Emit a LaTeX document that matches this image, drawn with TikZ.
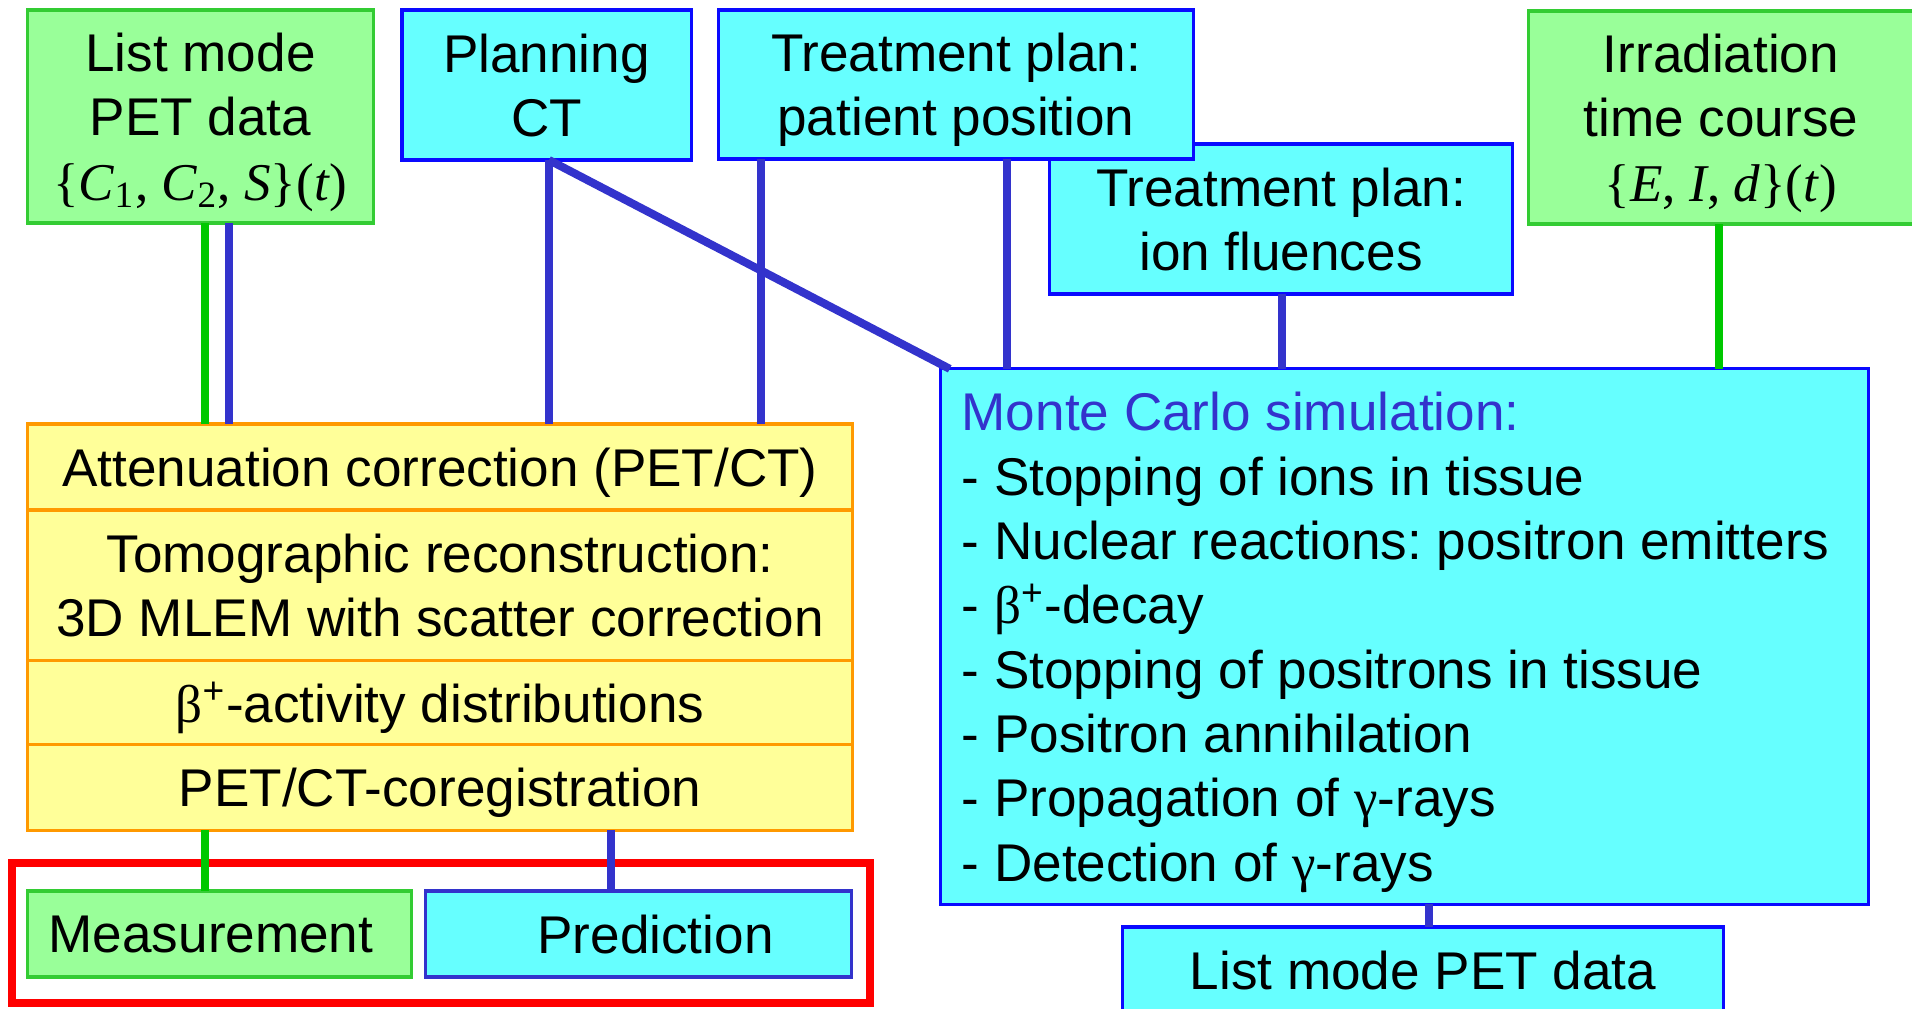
\documentclass[tikz,border=0pt]{standalone}
\usepackage{fontspec}
\setmainfont{Liberation Sans}
\newfontfamily\symfont{Liberation Serif}
\usepackage{tikz}
\usetikzlibrary{positioning}

\definecolor{boxcyan}{HTML}{66FFFF}
\definecolor{boxblue}{HTML}{0A0AFF}
\definecolor{boxgreen}{HTML}{99FF99}
\definecolor{edgegreen}{HTML}{33CC33}
\definecolor{linegreen}{HTML}{00C800}
\definecolor{lineblue}{HTML}{3333CC}
\definecolor{boxyellow}{HTML}{FFFF99}
\definecolor{edgeorange}{HTML}{FF9900}

\newcommand{\bplus}{{\symfont β}\textsuperscript{+}}
\newcommand{\gam}{{\symfont γ}}
\newcommand{\formula}[1]{{\symfont #1}}

\begin{document}
\begin{tikzpicture}[x=0.01cm, y=-0.01cm,
	every node/.style={font=\fontsize{15.1pt}{18.3pt}\selectfont\frenchspacing, inner sep=0pt, outer sep=0pt, text depth=0pt, align=center},
	cbox/.style={draw=boxblue, fill=boxcyan, line width=0.9pt},
	gbox/.style={draw=edgegreen, fill=boxgreen, line width=0.9pt},
	ybox/.style={draw=edgeorange, fill=boxyellow, line width=0.9pt, minimum width=8.24cm},
	bline/.style={lineblue, line width=2.3pt},
	gline/.style={linegreen, line width=2.3pt}]
	\useasboundingbox (0,0) rectangle (1912,1008);

	% inputs
	\node[gbox, minimum width=3.45cm, minimum height=2.13cm] (lmpet) at (200.5,116.5) {List mode\\PET data\\\formula{\{\textit{C}\textsubscript{1}, \textit{C}\textsubscript{2}, \textit{S}\}(\textit{t})}};
	\node[cbox, minimum width=2.89cm, minimum height=1.5cm] (plct) at (546.5,85) {Planning\\CT};
	\node[cbox, minimum width=4.62cm, minimum height=1.5cm] (tpion) at (1281,219) {Treatment plan:\\ion fluences};
	\node[cbox, minimum width=4.74cm, minimum height=1.49cm] (tppos) at (956,84.5) {Treatment plan:\\patient position};
	\node[gbox, minimum width=3.84cm, minimum height=2.13cm] (irr) at (1721,117.5) {Irradiation\\time course\\\formula{\{\textit{E}, \textit{I}, \textit{d}\}(\textit{t})}};

	% measurement chain
	\node[ybox, minimum height=0.86cm] (att) at (440,467) {Attenuation correction (PET/CT)};
	\node[ybox, minimum height=1.5cm, below=0pt of att] (tomo) {Tomographic reconstruction:\\3D MLEM with scatter correction};
	\node[ybox, minimum height=0.84cm, below=0pt of tomo] (beta) {\bplus-activity distributions};
	\node[ybox, minimum height=0.86cm, below=0pt of beta] (coreg) {PET/CT-coregistration};

	\draw[red, line width=2.3pt] (12,863) rectangle (870,1003);
	\node[gbox, minimum width=3.83cm, minimum height=0.86cm] (meas) at (219.5,934) {Measurement\hspace*{0.17cm}};
	\node[cbox, draw=lineblue, minimum width=4.25cm, minimum height=0.86cm] (pred) at (638.5,934) {\hspace*{0.34cm}Prediction};

	% simulation
	\node[cbox, text width=8.85cm, text depth=, minimum height=5.35cm, inner xsep=0.21cm, align=flush left] (mc) at (1404.5,636.5) {\rule{0pt}{0.95em}\textcolor{lineblue}{Monte Carlo simulation:}\\
		- Stopping of ions in tissue\\
		- Nuclear reactions: positron emitters\\
		- \bplus-decay\\
		- Stopping of positrons in tissue\\
		- Positron annihilation\\
		- Propagation of \gam-rays\\
		- Detection of \gam-rays};
	\node[cbox, minimum width=6.0cm, minimum height=0.86cm] (lmout) at (1423,970) {List mode PET data};

	% connections
	\draw[gline] ([xshift=.045cm]lmpet.south) -- ([xshift=.045cm]lmpet.south |- att.north);
	\draw[bline] ([xshift=.285cm]lmpet.south) -- ([xshift=.285cm]lmpet.south |- att.north);
	\draw[bline] ([xshift=.025cm]plct.south) -- ([xshift=.025cm]plct.south |- att.north);
	\draw[bline] ([xshift=.025cm]plct.south) -- ([xshift=.09cm]mc.north west);
	\draw[bline] ([xshift=-1.95cm]tppos.south) -- ([xshift=-1.95cm]tppos.south |- att.north);
	\draw[bline] ([xshift=.51cm]tppos.south) -- ([xshift=.51cm]tppos.south |- mc.north);
	\draw[bline] ([xshift=.01cm]tpion.south) -- ([xshift=.01cm]tpion.south |- mc.north);
	\draw[gline] ([xshift=-.02cm]irr.south) -- ([xshift=-.02cm]irr.south |- mc.north);
	\draw[gline] ([xshift=-2.35cm]coreg.south) -- ([xshift=-2.35cm]coreg.south |- meas.north);
	\draw[bline] ([xshift=1.71cm]coreg.south) -- ([xshift=1.71cm]coreg.south |- pred.north);
	\draw[bline] ([xshift=.245cm]mc.south) -- ([xshift=.245cm]mc.south |- lmout.north);
\end{tikzpicture}
\end{document}
